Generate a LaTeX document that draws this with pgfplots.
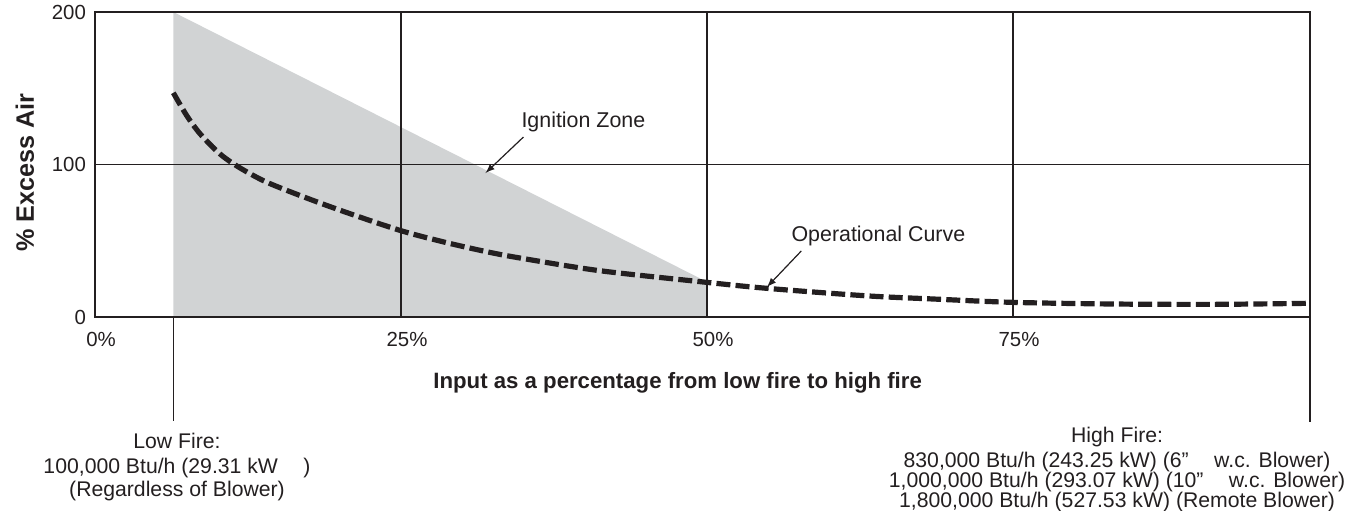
\documentclass[border=0pt]{standalone}
\usepackage{pgfplots}
\pgfplotsset{compat=1.18}
\usepackage{fontspec}
\setmainfont{Liberation Sans}
\definecolor{ink}{RGB}{35,31,32}
\definecolor{zone}{RGB}{209,211,212}
\begin{document}
\begin{tikzpicture}
\path[use as bounding box] (-47.5pt,-96.5pt) rectangle (630.5pt,158.5pt);
\begin{axis}[
  at={(0,0)}, anchor=south west,
  scale only axis, width=607.5pt, height=152.5pt,
  xmin=0, xmax=99.26, ymin=0, ymax=200,
  xtick={0,25,50,75}, xticklabels={0\%,25\%,50\%,75\%},
  ytick={0,100,200}, yticklabels={0,100,200},
  major tick length=0pt,
  grid=major,
  major grid style={ink, line width=0.6pt},
  axis line style={ink, line width=0.7pt},
  axis on top,
  clip=false,
  tick label style={font=\fontsize{10.2}{12}\selectfont, text=ink},
  xticklabel style={xshift=3pt, yshift=-4pt},
  yticklabel style={xshift=-1pt},
]
\addplot[fill=zone, draw=none] coordinates {(6.4,0) (6.4,200) (50,23) (50,0)} \closedcycle;
\addplot[ink, line width=2.6pt, dash pattern=on 7pt off 2.6pt, smooth] coordinates {
(6.4,147) (7.5,132) (8.6,120) (10.2,107) (11.8,98) (14.0,88.5) (17.3,78)
(20.6,68.4) (25.0,56.6) (28.7,48.8) (32.3,42.3) (35.3,37.9) (41.3,30.3) (50.0,22.7)
(54.9,18.8) (63.0,13.9) (68.5,11.8) (75.0,9.6) (83.5,8.5) (91.6,8.3) (99.26,9.0)};
% markers below the axis
\draw[ink, line width=0.7pt] (axis cs:6.4,0) -- (axis cs:6.4,-68.2);
\draw[ink, line width=0.7pt] (axis cs:99.26,0) -- (axis cs:99.26,-68.9);
% annotations
\node[text=ink, font=\fontsize{10.7}{12}\selectfont] at (axis cs:39.9,127.9) {Ignition Zone};
\draw[ink, line width=0.6pt, -latex] (axis cs:35.0,118.0) -- (axis cs:31.9,94.4);
\node[text=ink, font=\fontsize{10.7}{12}\selectfont] at (axis cs:64.0,53.1) {Operational Curve};
\draw[ink, line width=0.6pt, -latex] (axis cs:57.7,43.3) -- (axis cs:54.9,19.7);
% axis labels
\node[text=ink, font=\fontsize{11.1}{13}\selectfont\bfseries, anchor=base] at (axis cs:47.6,-47.2) {Input as a percentage from low fire to high fire};
\node[text=ink, font=\fontsize{12.6}{14}\selectfont\bfseries, rotate=90] at (axis cs:-5.72,94.8) {\% Excess Air};
% low / high fire text
\begin{scope}[every node/.style={text=ink, font=\fontsize{10.6}{12}\selectfont, anchor=base}]
\node at (axis cs:6.7,-85.9) {Low Fire:};
\node at (axis cs:6.7,-102.9) {100,000 Btu/h (29.31 kW\hspace{1.2em})};
\node at (axis cs:6.7,-117.4) {(Regardless of Blower)};
\node at (axis cs:83.5,-82.6) {High Fire:};
\node at (axis cs:83.5,-98.4) {830,000 Btu/h (243.25 kW) (6\symbol{34}\hspace{1.2em}w.c. Blower)};
\node at (axis cs:83.5,-111.5) {1,000,000 Btu/h (293.07 kW) (10\symbol{34}\hspace{1.2em}w.c. Blower)};
\node at (axis cs:83.5,-124.6) {1,800,000 Btu/h (527.53 kW) (Remote Blower)};
\end{scope}
\end{axis}
\end{tikzpicture}
\end{document}
